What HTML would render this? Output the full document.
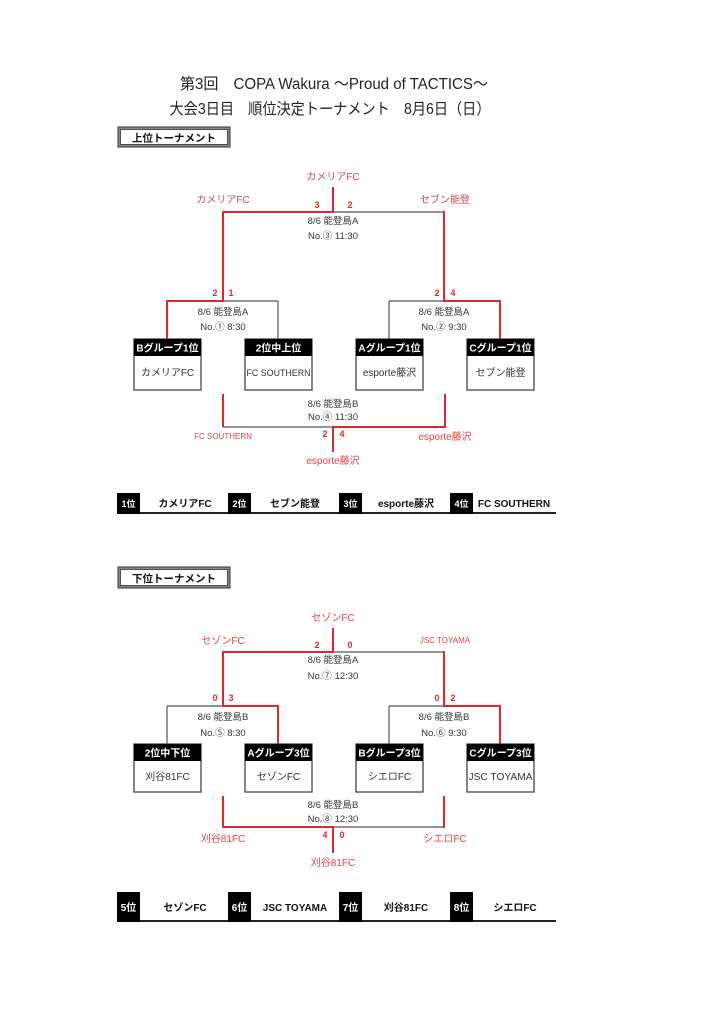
<!DOCTYPE html>
<html><head><meta charset="utf-8">
<style>
html,body{margin:0;padding:0;background:#fff;}
svg{display:block;}
text{font-family:"Liberation Sans","Noto Sans CJK JP",sans-serif;}
.t{fill:#222;}
.i{fill:#333;font-size:9.5px;}
.r{fill:#e04448;font-size:10px;}
.s{fill:#e02a2a;font-size:9px;font-weight:bold;}
.h{fill:#fff;font-size:10px;font-weight:bold;}
.b{fill:#333;font-size:10px;}
.k{fill:#111;font-size:10px;font-weight:bold;}
.w{fill:#fff;font-size:9px;font-weight:bold;}
.red{stroke:#e3262b;stroke-width:2;fill:none;}
.dk{stroke:#555;stroke-width:1.2;fill:none;}
.box{fill:#fff;stroke:#444;stroke-width:1.3;}
</style></head>
<body>
<svg width="724" height="1024" viewBox="0 0 724 1024" xmlns="http://www.w3.org/2000/svg">
<!-- Titles -->
<text x="334" y="89" text-anchor="middle" class="t" style="font-size:15.5px" textLength="308" lengthAdjust="spacingAndGlyphs">第3回　COPA Wakura ～Proud of TACTICS～</text>
<text x="330" y="114" text-anchor="middle" class="t" style="font-size:15.5px" textLength="321" lengthAdjust="spacingAndGlyphs">大会3日目　順位決定トーナメント　8月6日（日）</text>

<!-- Upper label -->
<rect x="118" y="127" width="112" height="20" fill="#888" stroke="#333" stroke-width="1"/>
<rect x="120.5" y="129.5" width="107" height="15" fill="#fff" stroke="#333" stroke-width="0.8"/>
<text x="174" y="141.5" text-anchor="middle" class="k" style="font-size:10.5px">上位トーナメント</text>

<!-- ===== Upper bracket ===== -->
<text x="333" y="180" text-anchor="middle" class="r">カメリアFC</text>
<line x1="333" y1="187" x2="333" y2="212" class="red"/>
<text x="223" y="203" text-anchor="middle" class="r">カメリアFC</text>
<text x="445" y="203" text-anchor="middle" class="r">セブン能登</text>
<text x="317" y="208" text-anchor="middle" class="s">3</text>
<text x="350" y="208" text-anchor="middle" class="s">2</text>
<line x1="333" y1="212" x2="444" y2="212" class="dk"/>
<line x1="222" y1="212" x2="334" y2="212" class="red"/>
<line x1="223" y1="211" x2="223" y2="301" class="red"/>
<line x1="444" y1="211" x2="444" y2="301" class="red"/>
<text x="333" y="224" text-anchor="middle" class="i">8/6 能登島A</text>
<text x="333" y="239" text-anchor="middle" class="i">No.③ 11:30</text>

<text x="215" y="296" text-anchor="middle" class="s">2</text>
<text x="231" y="296" text-anchor="middle" class="s">1</text>
<text x="437" y="296" text-anchor="middle" class="s">2</text>
<text x="453" y="296" text-anchor="middle" class="s">4</text>

<!-- left semi -->
<line x1="223" y1="301" x2="278" y2="301" class="dk"/>
<line x1="278" y1="301" x2="278" y2="339" class="dk"/>
<line x1="166" y1="301" x2="224" y2="301" class="red"/>
<line x1="167" y1="300" x2="167" y2="339" class="red"/>
<text x="223" y="315" text-anchor="middle" class="i">8/6 能登島A</text>
<text x="223" y="330" text-anchor="middle" class="i">No.① 8:30</text>
<!-- right semi -->
<line x1="389" y1="301" x2="444" y2="301" class="dk"/>
<line x1="389" y1="301" x2="389" y2="339" class="dk"/>
<line x1="443" y1="301" x2="501" y2="301" class="red"/>
<line x1="500" y1="300" x2="500" y2="339" class="red"/>
<text x="444" y="315" text-anchor="middle" class="i">8/6 能登島A</text>
<text x="444" y="330" text-anchor="middle" class="i">No.② 9:30</text>

<!-- boxes upper -->
<g>
<rect x="134" y="339" width="67" height="51" class="box"/><rect x="134" y="339" width="67" height="17" fill="#000"/>
<text x="167.5" y="351.5" text-anchor="middle" class="h">Bグループ1位</text>
<text x="167.5" y="376" text-anchor="middle" class="b">カメリアFC</text>
<rect x="245" y="339" width="67" height="51" class="box"/><rect x="245" y="339" width="67" height="17" fill="#000"/>
<text x="278.5" y="351.5" text-anchor="middle" class="h">2位中上位</text>
<text x="278.5" y="376" text-anchor="middle" class="b" style="font-size:9px" textLength="64" lengthAdjust="spacingAndGlyphs">FC SOUTHERN</text>
<rect x="356" y="339" width="67" height="51" class="box"/><rect x="356" y="339" width="67" height="17" fill="#000"/>
<text x="389.5" y="351.5" text-anchor="middle" class="h">Aグループ1位</text>
<text x="389.5" y="376" text-anchor="middle" class="b">esporte藤沢</text>
<rect x="467" y="339" width="67" height="51" class="box"/><rect x="467" y="339" width="67" height="17" fill="#000"/>
<text x="500.5" y="351.5" text-anchor="middle" class="h">Cグループ1位</text>
<text x="500.5" y="376" text-anchor="middle" class="b">セブン能登</text>
</g>

<!-- 3rd place upper -->
<line x1="223" y1="427" x2="333" y2="427" class="dk"/>
<line x1="223" y1="394" x2="223" y2="427" class="red"/>
<line x1="332" y1="427" x2="446" y2="427" class="red"/>
<line x1="445" y1="394" x2="445" y2="428" class="red"/>
<line x1="333" y1="426" x2="333" y2="452" class="red"/>
<text x="333" y="407" text-anchor="middle" class="i">8/6 能登島B</text>
<text x="333" y="420" text-anchor="middle" class="i">No.④ 11:30</text>
<text x="223" y="439" text-anchor="middle" class="r" style="font-size:8px">FC SOUTHERN</text>
<text x="325" y="437" text-anchor="middle" class="s">2</text>
<text x="342" y="437" text-anchor="middle" class="s">4</text>
<text x="445" y="440" text-anchor="middle" class="r">esporte藤沢</text>
<text x="333" y="464" text-anchor="middle" class="r">esporte藤沢</text>

<!-- ranking upper -->
<line x1="117" y1="513" x2="556" y2="513" stroke="#222" stroke-width="2"/>
<rect x="117" y="493" width="23" height="21" fill="#000"/>
<rect x="228" y="493" width="23" height="21" fill="#000"/>
<rect x="339" y="493" width="23" height="21" fill="#000"/>
<rect x="450" y="493" width="23" height="21" fill="#000"/>
<text x="128.5" y="507" text-anchor="middle" class="w">1位</text>
<text x="239.5" y="507" text-anchor="middle" class="w">2位</text>
<text x="350.5" y="507" text-anchor="middle" class="w">3位</text>
<text x="461.5" y="507" text-anchor="middle" class="w">4位</text>
<text x="185" y="507" text-anchor="middle" class="k">カメリアFC</text>
<text x="295" y="507" text-anchor="middle" class="k">セブン能登</text>
<text x="406" y="507" text-anchor="middle" class="k">esporte藤沢</text>
<text x="514" y="507" text-anchor="middle" class="k">FC SOUTHERN</text>

<!-- Lower label -->
<rect x="118" y="567" width="112" height="21" fill="#888" stroke="#333" stroke-width="1"/>
<rect x="120.5" y="569.5" width="107" height="16" fill="#fff" stroke="#333" stroke-width="0.8"/>
<text x="174" y="582" text-anchor="middle" class="k" style="font-size:10.5px">下位トーナメント</text>

<!-- ===== Lower bracket ===== -->
<text x="333" y="621" text-anchor="middle" class="r">セゾンFC</text>
<line x1="333" y1="628" x2="333" y2="652" class="red"/>
<text x="223" y="644" text-anchor="middle" class="r">セゾンFC</text>
<text x="445" y="643" text-anchor="middle" class="r" style="font-size:8px">JSC TOYAMA</text>
<text x="317" y="648" text-anchor="middle" class="s">2</text>
<text x="350" y="648" text-anchor="middle" class="s">0</text>
<line x1="333" y1="652" x2="444" y2="652" class="dk"/>
<line x1="222" y1="652" x2="334" y2="652" class="red"/>
<line x1="223" y1="651" x2="223" y2="706" class="red"/>
<line x1="444" y1="651" x2="444" y2="706" class="red"/>
<text x="333" y="663" text-anchor="middle" class="i">8/6 能登島A</text>
<text x="333" y="679" text-anchor="middle" class="i">No.⑦ 12:30</text>

<text x="215" y="701" text-anchor="middle" class="s">0</text>
<text x="231" y="701" text-anchor="middle" class="s">3</text>
<text x="437" y="701" text-anchor="middle" class="s">0</text>
<text x="453" y="701" text-anchor="middle" class="s">2</text>

<line x1="167" y1="706" x2="223" y2="706" class="dk"/>
<line x1="167" y1="706" x2="167" y2="744" class="dk"/>
<line x1="222" y1="706" x2="279" y2="706" class="red"/>
<line x1="278" y1="705" x2="278" y2="744" class="red"/>
<text x="223" y="720" text-anchor="middle" class="i">8/6 能登島B</text>
<text x="223" y="736" text-anchor="middle" class="i">No.⑤ 8:30</text>

<line x1="389" y1="706" x2="444" y2="706" class="dk"/>
<line x1="389" y1="706" x2="389" y2="744" class="dk"/>
<line x1="443" y1="706" x2="501" y2="706" class="red"/>
<line x1="500" y1="705" x2="500" y2="744" class="red"/>
<text x="444" y="720" text-anchor="middle" class="i">8/6 能登島B</text>
<text x="444" y="736" text-anchor="middle" class="i">No.⑥ 9:30</text>

<g>
<rect x="134" y="744" width="67" height="48" class="box"/><rect x="134" y="744" width="67" height="17" fill="#000"/>
<text x="167.5" y="756.5" text-anchor="middle" class="h">2位中下位</text>
<text x="167.5" y="780" text-anchor="middle" class="b">刈谷81FC</text>
<rect x="245" y="744" width="67" height="48" class="box"/><rect x="245" y="744" width="67" height="17" fill="#000"/>
<text x="278.5" y="756.5" text-anchor="middle" class="h">Aグループ3位</text>
<text x="278.5" y="780" text-anchor="middle" class="b">セゾンFC</text>
<rect x="356" y="744" width="67" height="48" class="box"/><rect x="356" y="744" width="67" height="17" fill="#000"/>
<text x="389.5" y="756.5" text-anchor="middle" class="h">Bグループ3位</text>
<text x="389.5" y="780" text-anchor="middle" class="b">シエロFC</text>
<rect x="467" y="744" width="67" height="48" class="box"/><rect x="467" y="744" width="67" height="17" fill="#000"/>
<text x="500.5" y="756.5" text-anchor="middle" class="h">Cグループ3位</text>
<text x="500.5" y="780" text-anchor="middle" class="b" textLength="64" lengthAdjust="spacingAndGlyphs">JSC TOYAMA</text>
</g>

<line x1="333" y1="827" x2="444" y2="827" class="dk"/>
<line x1="223" y1="796" x2="223" y2="828" class="red"/>
<line x1="222" y1="827" x2="334" y2="827" class="red"/>
<line x1="444" y1="796" x2="444" y2="828" class="red"/>
<line x1="333" y1="826" x2="333" y2="853" class="red"/>
<text x="333" y="808" text-anchor="middle" class="i">8/6 能登島B</text>
<text x="333" y="822" text-anchor="middle" class="i">No.⑧ 12:30</text>
<text x="223" y="842" text-anchor="middle" class="r">刈谷81FC</text>
<text x="325" y="838" text-anchor="middle" class="s">4</text>
<text x="342" y="838" text-anchor="middle" class="s">0</text>
<text x="445" y="842" text-anchor="middle" class="r">シエロFC</text>
<text x="333" y="866" text-anchor="middle" class="r">刈谷81FC</text>

<!-- ranking lower -->
<line x1="117" y1="921" x2="556" y2="921" stroke="#222" stroke-width="2"/>
<rect x="117" y="892" width="23" height="30" fill="#000"/>
<rect x="228" y="892" width="23" height="30" fill="#000"/>
<rect x="339" y="892" width="23" height="30" fill="#000"/>
<rect x="450" y="892" width="23" height="30" fill="#000"/>
<text x="128.5" y="911" text-anchor="middle" class="w" style="font-size:10px">5位</text>
<text x="239.5" y="911" text-anchor="middle" class="w" style="font-size:10px">6位</text>
<text x="350.5" y="911" text-anchor="middle" class="w" style="font-size:10px">7位</text>
<text x="461.5" y="911" text-anchor="middle" class="w" style="font-size:10px">8位</text>
<text x="185" y="911" text-anchor="middle" class="k">セゾンFC</text>
<text x="295" y="911" text-anchor="middle" class="k">JSC TOYAMA</text>
<text x="406" y="911" text-anchor="middle" class="k">刈谷81FC</text>
<text x="515" y="911" text-anchor="middle" class="k">シエロFC</text>
</svg>
</body></html>
